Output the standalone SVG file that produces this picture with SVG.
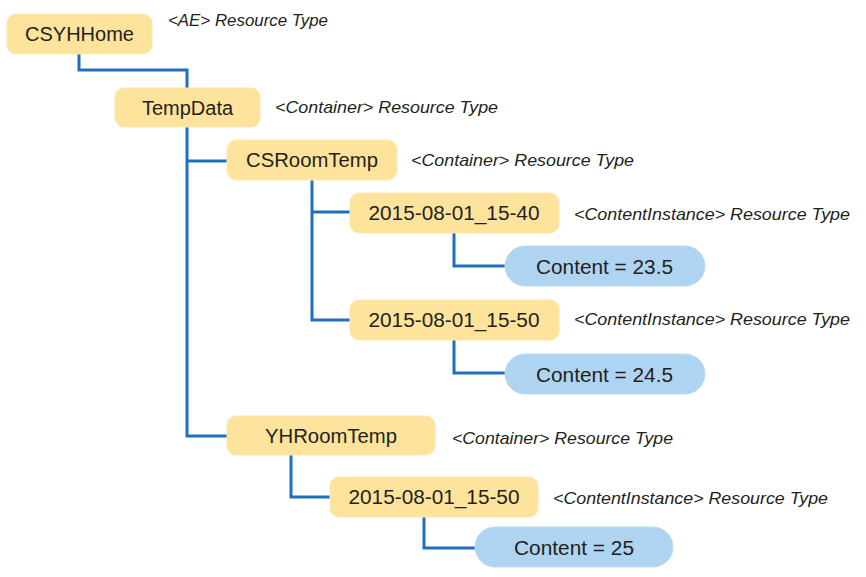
<svg xmlns="http://www.w3.org/2000/svg" width="866" height="577" viewBox="0 0 866 577">
<style>
.box{fill:#fee39c;stroke:#fde6b0;stroke-width:1}
.pill{fill:#aed4f1;stroke:#bcdcf3;stroke-width:1}
.t{font-family:"Liberation Sans",Arial,sans-serif;font-size:20px;fill:#231f20;text-anchor:middle}
.lab{font-family:"Liberation Sans",Arial,sans-serif;font-size:16.5px;font-style:italic;fill:#231f20}
.c{fill:none;stroke:#1f6fbd;stroke-width:3;stroke-linejoin:miter}
</style>
<rect width="866" height="577" fill="#ffffff"/>
<g id="connectors">
<path class="c" d="M79 54 V70 H187 V88"/>
<path class="c" d="M187 127 V436 H227"/>
<path class="c" d="M187 161 H227"/>
<path class="c" d="M312 180 V320 H350"/>
<path class="c" d="M312 212 H350"/>
<path class="c" d="M454 233 V266 H505"/>
<path class="c" d="M454 340 V373 H505"/>
<path class="c" d="M291 455 V497 H330"/>
<path class="c" d="M424 517 V548 H475"/>
</g>
<g id="csyhhome">
<rect class="box" x="7" y="14" width="145" height="40" rx="9"/>
<text class="t" x="79.5" y="41">CSYHHome</text>
<text class="lab" x="168" y="26" textLength="160" lengthAdjust="spacingAndGlyphs">&lt;AE&gt; Resource Type</text>
</g>
<g id="tempdata">
<rect class="box" x="115" y="88" width="145" height="39" rx="9"/>
<text class="t" x="187.5" y="114.5">TempData</text>
<text class="lab" x="275" y="113" textLength="223" lengthAdjust="spacingAndGlyphs">&lt;Container&gt; Resource Type</text>
</g>
<g id="csroomtemp">
<rect class="box" x="227" y="140" width="170" height="40" rx="9"/>
<text class="t" x="312" y="167" textLength="132" lengthAdjust="spacingAndGlyphs">CSRoomTemp</text>
<text class="lab" x="411" y="166" textLength="223" lengthAdjust="spacingAndGlyphs">&lt;Container&gt; Resource Type</text>
</g>
<g id="ci-15-40">
<rect class="box" x="350" y="193" width="209" height="40" rx="9"/>
<text class="t" x="454" y="220" textLength="171" lengthAdjust="spacingAndGlyphs">2015-08-01_15-40</text>
<text class="lab" x="574" y="220" textLength="276" lengthAdjust="spacingAndGlyphs">&lt;ContentInstance&gt; Resource Type</text>
</g>
<g id="content-23-5">
<rect class="pill" x="505" y="246" width="200" height="40" rx="20"/>
<text class="t" x="604.5" y="274" textLength="137" lengthAdjust="spacingAndGlyphs">Content = 23.5</text>
</g>
<g id="ci-15-50-a">
<rect class="box" x="350" y="300" width="209" height="40" rx="9"/>
<text class="t" x="454" y="327" textLength="171" lengthAdjust="spacingAndGlyphs">2015-08-01_15-50</text>
<text class="lab" x="574" y="325" textLength="276" lengthAdjust="spacingAndGlyphs">&lt;ContentInstance&gt; Resource Type</text>
</g>
<g id="content-24-5">
<rect class="pill" x="505" y="354" width="200" height="40" rx="20"/>
<text class="t" x="604.5" y="382" textLength="137" lengthAdjust="spacingAndGlyphs">Content = 24.5</text>
</g>
<g id="yhroomtemp">
<rect class="box" x="227" y="416" width="208" height="39" rx="9"/>
<text class="t" x="331" y="443" textLength="132" lengthAdjust="spacingAndGlyphs">YHRoomTemp</text>
<text class="lab" x="452" y="444" textLength="221" lengthAdjust="spacingAndGlyphs">&lt;Container&gt; Resource Type</text>
</g>
<g id="ci-15-50-b">
<rect class="box" x="330" y="477" width="208" height="40" rx="9"/>
<text class="t" x="434" y="504" textLength="171" lengthAdjust="spacingAndGlyphs">2015-08-01_15-50</text>
<text class="lab" x="553" y="504" textLength="275" lengthAdjust="spacingAndGlyphs">&lt;ContentInstance&gt; Resource Type</text>
</g>
<g id="content-25">
<rect class="pill" x="475" y="527" width="198" height="40" rx="20"/>
<text class="t" x="574" y="555" textLength="120" lengthAdjust="spacingAndGlyphs">Content = 25</text>
</g>
</svg>
